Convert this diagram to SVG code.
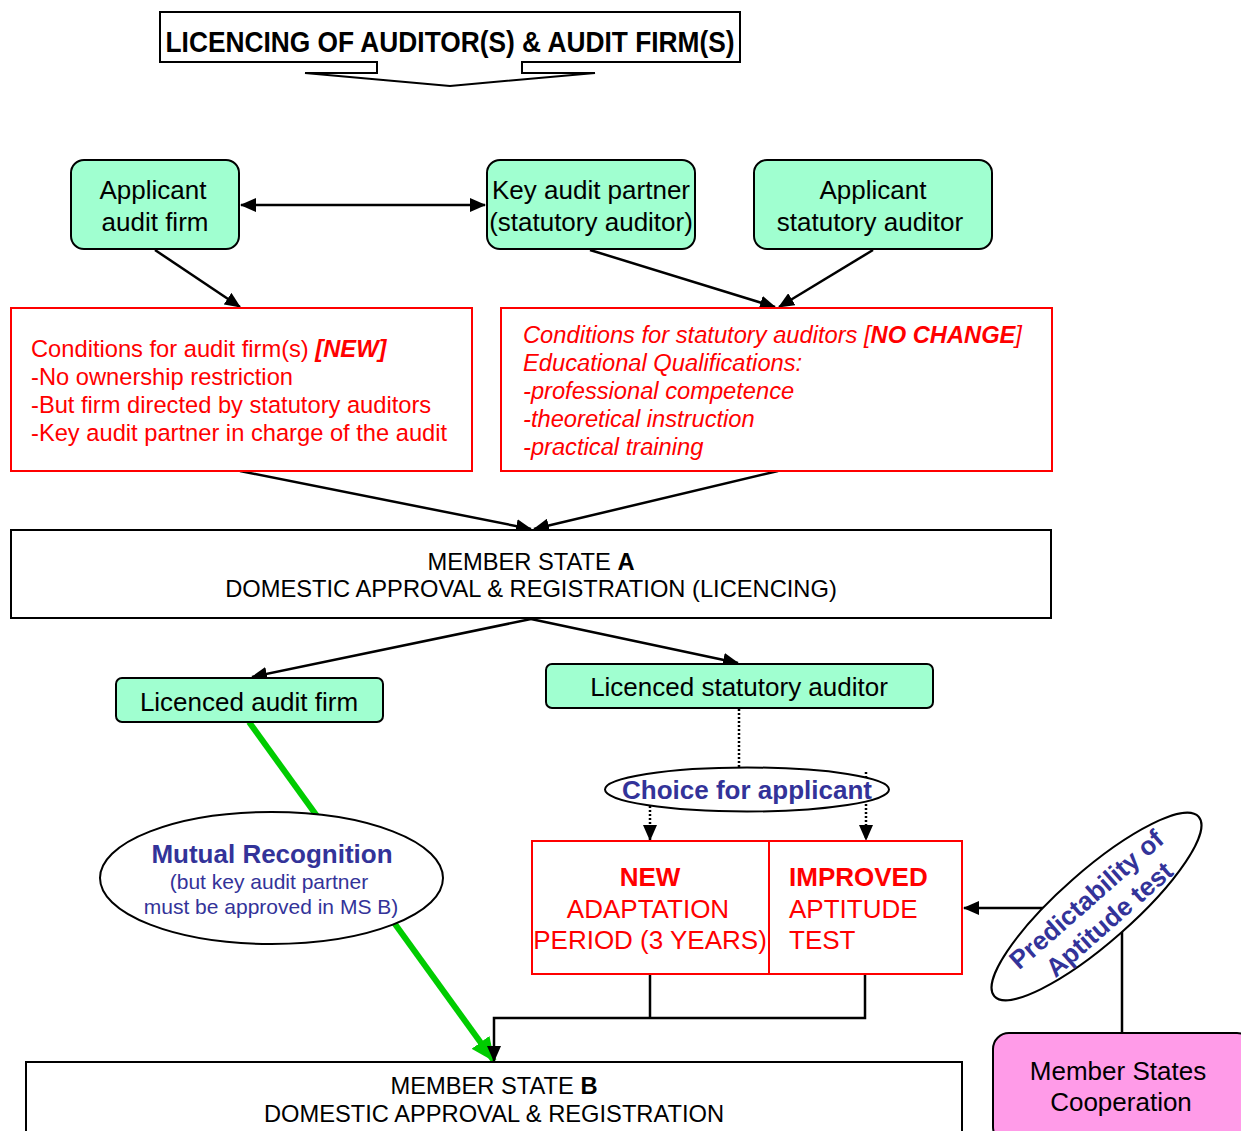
<svg xmlns="http://www.w3.org/2000/svg" width="1241" height="1131" viewBox="0 0 1241 1131">
<style>
text{font-family:"Liberation Sans",Arial,sans-serif;}
.g{fill:#A0FFD0;stroke:#000;stroke-width:2;}
.r{fill:#fff;stroke:#FF0000;stroke-width:2;}
.b{fill:#fff;stroke:#000;stroke-width:2;}
.t26{font-size:26px;fill:#000;}
.t23{font-size:23.7px;}
.red{fill:#FF0000;}
.blue{fill:#333399;}
.c{stroke:#000;stroke-width:2.5;fill:none;}
.d{stroke:#000;stroke-width:2.5;fill:none;stroke-dasharray:2,2;}
</style>
<defs>
<marker id="ah" markerUnits="userSpaceOnUse" markerWidth="16" markerHeight="14" refX="15" refY="7" orient="auto-start-reverse"><path d="M0,0 L16,7 L0,14 Z" fill="#000"/></marker>
<marker id="ahg" markerUnits="userSpaceOnUse" markerWidth="24" markerHeight="22" refX="23" refY="11" orient="auto"><path d="M0,0 L24,11 L0,22 Z" fill="#00CC00"/></marker>
</defs>

<g id="connectors">
<line class="c" x1="241" y1="205" x2="485" y2="205" marker-start="url(#ah)" marker-end="url(#ah)"/>
<line class="c" x1="155" y1="250" x2="240" y2="307" marker-end="url(#ah)"/>
<line class="c" x1="590" y1="250" x2="775" y2="307" marker-end="url(#ah)"/>
<line class="c" x1="873" y1="250" x2="779" y2="307" marker-end="url(#ah)"/>
<line class="c" x1="240" y1="471" x2="531" y2="529" marker-end="url(#ah)"/>
<line class="c" x1="778" y1="471" x2="534" y2="529" marker-end="url(#ah)"/>
<line class="c" x1="531" y1="619" x2="252" y2="677" marker-end="url(#ah)"/>
<line class="c" x1="531" y1="619" x2="738" y2="663" marker-end="url(#ah)"/>
<line class="d" x1="739" y1="709" x2="739" y2="770"/>
<line class="d" x1="650" y1="806" x2="650" y2="840" marker-end="url(#ah)"/>
<line class="d" x1="866" y1="772" x2="866" y2="840" marker-end="url(#ah)"/>
<line x1="249" y1="722" x2="494" y2="1061" stroke="#00CC00" stroke-width="6" marker-end="url(#ahg)"/>
<path class="c" d="M650,974 V1018"/>
<path class="c" d="M865,974 V1018 H494 V1061" marker-end="url(#ah)"/>
<line class="c" x1="1096" y1="908" x2="964" y2="908" marker-end="url(#ah)"/>
<line class="c" x1="1122" y1="906" x2="1122" y2="1033"/>
</g>

<g id="title">
<path d="M160,12 H740 V62 H522 V73 H595 L450,86 L305,73 H377 V62 H160 Z" fill="#fff" stroke="#000" stroke-width="2"/>
<text x="450" y="52" text-anchor="middle" font-size="29" font-weight="bold" textLength="569" lengthAdjust="spacingAndGlyphs">LICENCING OF AUDITOR(S) &amp; AUDIT FIRM(S)</text>
</g>

<g id="applicant-audit-firm">
<rect class="g" x="71" y="160" width="168" height="89" rx="13"/>
<text class="t26" x="153" y="199" text-anchor="middle">Applicant</text>
<text class="t26" x="155" y="231" text-anchor="middle">audit firm</text>
</g>

<g id="key-audit-partner">
<rect class="g" x="487" y="160" width="208" height="89" rx="13"/>
<text class="t26" x="591" y="199" text-anchor="middle">Key audit partner</text>
<text class="t26" x="591" y="231" text-anchor="middle">(statutory auditor)</text>
</g>

<g id="applicant-statutory-auditor">
<rect class="g" x="754" y="160" width="238" height="89" rx="13"/>
<text class="t26" x="873" y="199" text-anchor="middle">Applicant</text>
<text class="t26" x="870" y="231" text-anchor="middle">statutory auditor</text>
</g>

<g id="conditions-audit-firms">
<rect class="r" x="11" y="308" width="461" height="163"/>
<text class="t23 red" x="31" y="357">Conditions for audit firm(s) <tspan font-weight="bold" font-style="italic">[NEW]</tspan></text>
<text class="t23 red" x="31" y="385">-No ownership restriction</text>
<text class="t23 red" x="31" y="413">-But firm directed by statutory auditors</text>
<text class="t23 red" x="31" y="441">-Key audit partner in charge of the audit</text>
</g>

<g id="conditions-statutory-auditors">
<rect class="r" x="501" y="308" width="551" height="163"/>
<g font-style="italic">
<text class="t23 red" x="523" y="343">Conditions for statutory auditors [<tspan font-weight="bold">NO CHANGE</tspan>]</text>
<text class="t23 red" x="523" y="371">Educational Qualifications:</text>
<text class="t23 red" x="523" y="399">-professional competence</text>
<text class="t23 red" x="523" y="427">-theoretical instruction</text>
<text class="t23 red" x="523" y="455">-practical training</text>
</g>
</g>

<g id="member-state-a">
<rect class="b" x="11" y="530" width="1040" height="88"/>
<text class="t23" x="531" y="570" text-anchor="middle">MEMBER STATE <tspan font-weight="bold">A</tspan></text>
<text class="t23" x="531" y="597" text-anchor="middle">DOMESTIC APPROVAL &amp; REGISTRATION (LICENCING)</text>
</g>

<g id="licenced-audit-firm">
<rect class="g" x="116" y="678" width="267" height="44" rx="6"/>
<text class="t26" x="249" y="711" text-anchor="middle">Licenced audit firm</text>
</g>

<g id="licenced-statutory-auditor">
<rect class="g" x="546" y="664" width="387" height="44" rx="6"/>
<text class="t26" x="739" y="696" text-anchor="middle">Licenced statutory auditor</text>
</g>

<g id="choice-for-applicant">
<ellipse cx="747" cy="789.5" rx="142" ry="22" fill="#fff" stroke="#000" stroke-width="2"/>
<text class="blue" x="747" y="799" text-anchor="middle" font-size="26" font-weight="bold">Choice for applicant</text>
</g>

<g id="new-adaptation-period">
<rect class="r" x="532" y="841" width="237" height="133"/>
<text class="red" x="650" y="886" text-anchor="middle" font-size="26" font-weight="bold">NEW</text>
<text class="red" x="648" y="918" text-anchor="middle" font-size="26">ADAPTATION</text>
<text class="red" x="650" y="949" text-anchor="middle" font-size="26">PERIOD (3 YEARS)</text>
</g>

<g id="improved-aptitude-test">
<rect class="r" x="769" y="841" width="193" height="133"/>
<text class="red" x="789" y="886" font-size="26" font-weight="bold">IMPROVED</text>
<text class="red" x="789" y="918" font-size="26">APTITUDE</text>
<text class="red" x="789" y="949" font-size="26">TEST</text>
</g>

<g id="mutual-recognition">
<ellipse cx="271.5" cy="878" rx="171.5" ry="66" fill="#fff" stroke="#000" stroke-width="2"/>
<text class="blue" x="272" y="863" text-anchor="middle" font-size="26" font-weight="bold">Mutual Recognition</text>
<text class="blue" x="269" y="889" text-anchor="middle" font-size="21">(but key audit partner</text>
<text class="blue" x="271" y="914" text-anchor="middle" font-size="21">must be approved in MS B)</text>
</g>

<g id="predictability">
<g transform="translate(1096.5,906.5) rotate(-41.3)">
<ellipse cx="0" cy="0" rx="136" ry="36" fill="#fff" stroke="#000" stroke-width="2"/>
<text class="blue" x="-3" y="-3" text-anchor="middle" font-size="26" font-weight="bold">Predictability of</text>
<text class="blue" x="1" y="27" text-anchor="middle" font-size="26" font-weight="bold">Aptitude test</text>
</g>
</g>

<g id="member-state-b">
<rect class="b" x="26" y="1062" width="936" height="80"/>
<text class="t23" x="494" y="1094" text-anchor="middle">MEMBER STATE <tspan font-weight="bold">B</tspan></text>
<text class="t23" x="494" y="1122" text-anchor="middle">DOMESTIC APPROVAL &amp; REGISTRATION</text>
</g>

<g id="member-states-cooperation">
<rect x="993" y="1033" width="260" height="110" rx="16" fill="#FF9BE8" stroke="#000" stroke-width="2"/>
<text class="t26" x="1118" y="1080" text-anchor="middle">Member States</text>
<text class="t26" x="1121" y="1111" text-anchor="middle">Cooperation</text>
</g>
</svg>
